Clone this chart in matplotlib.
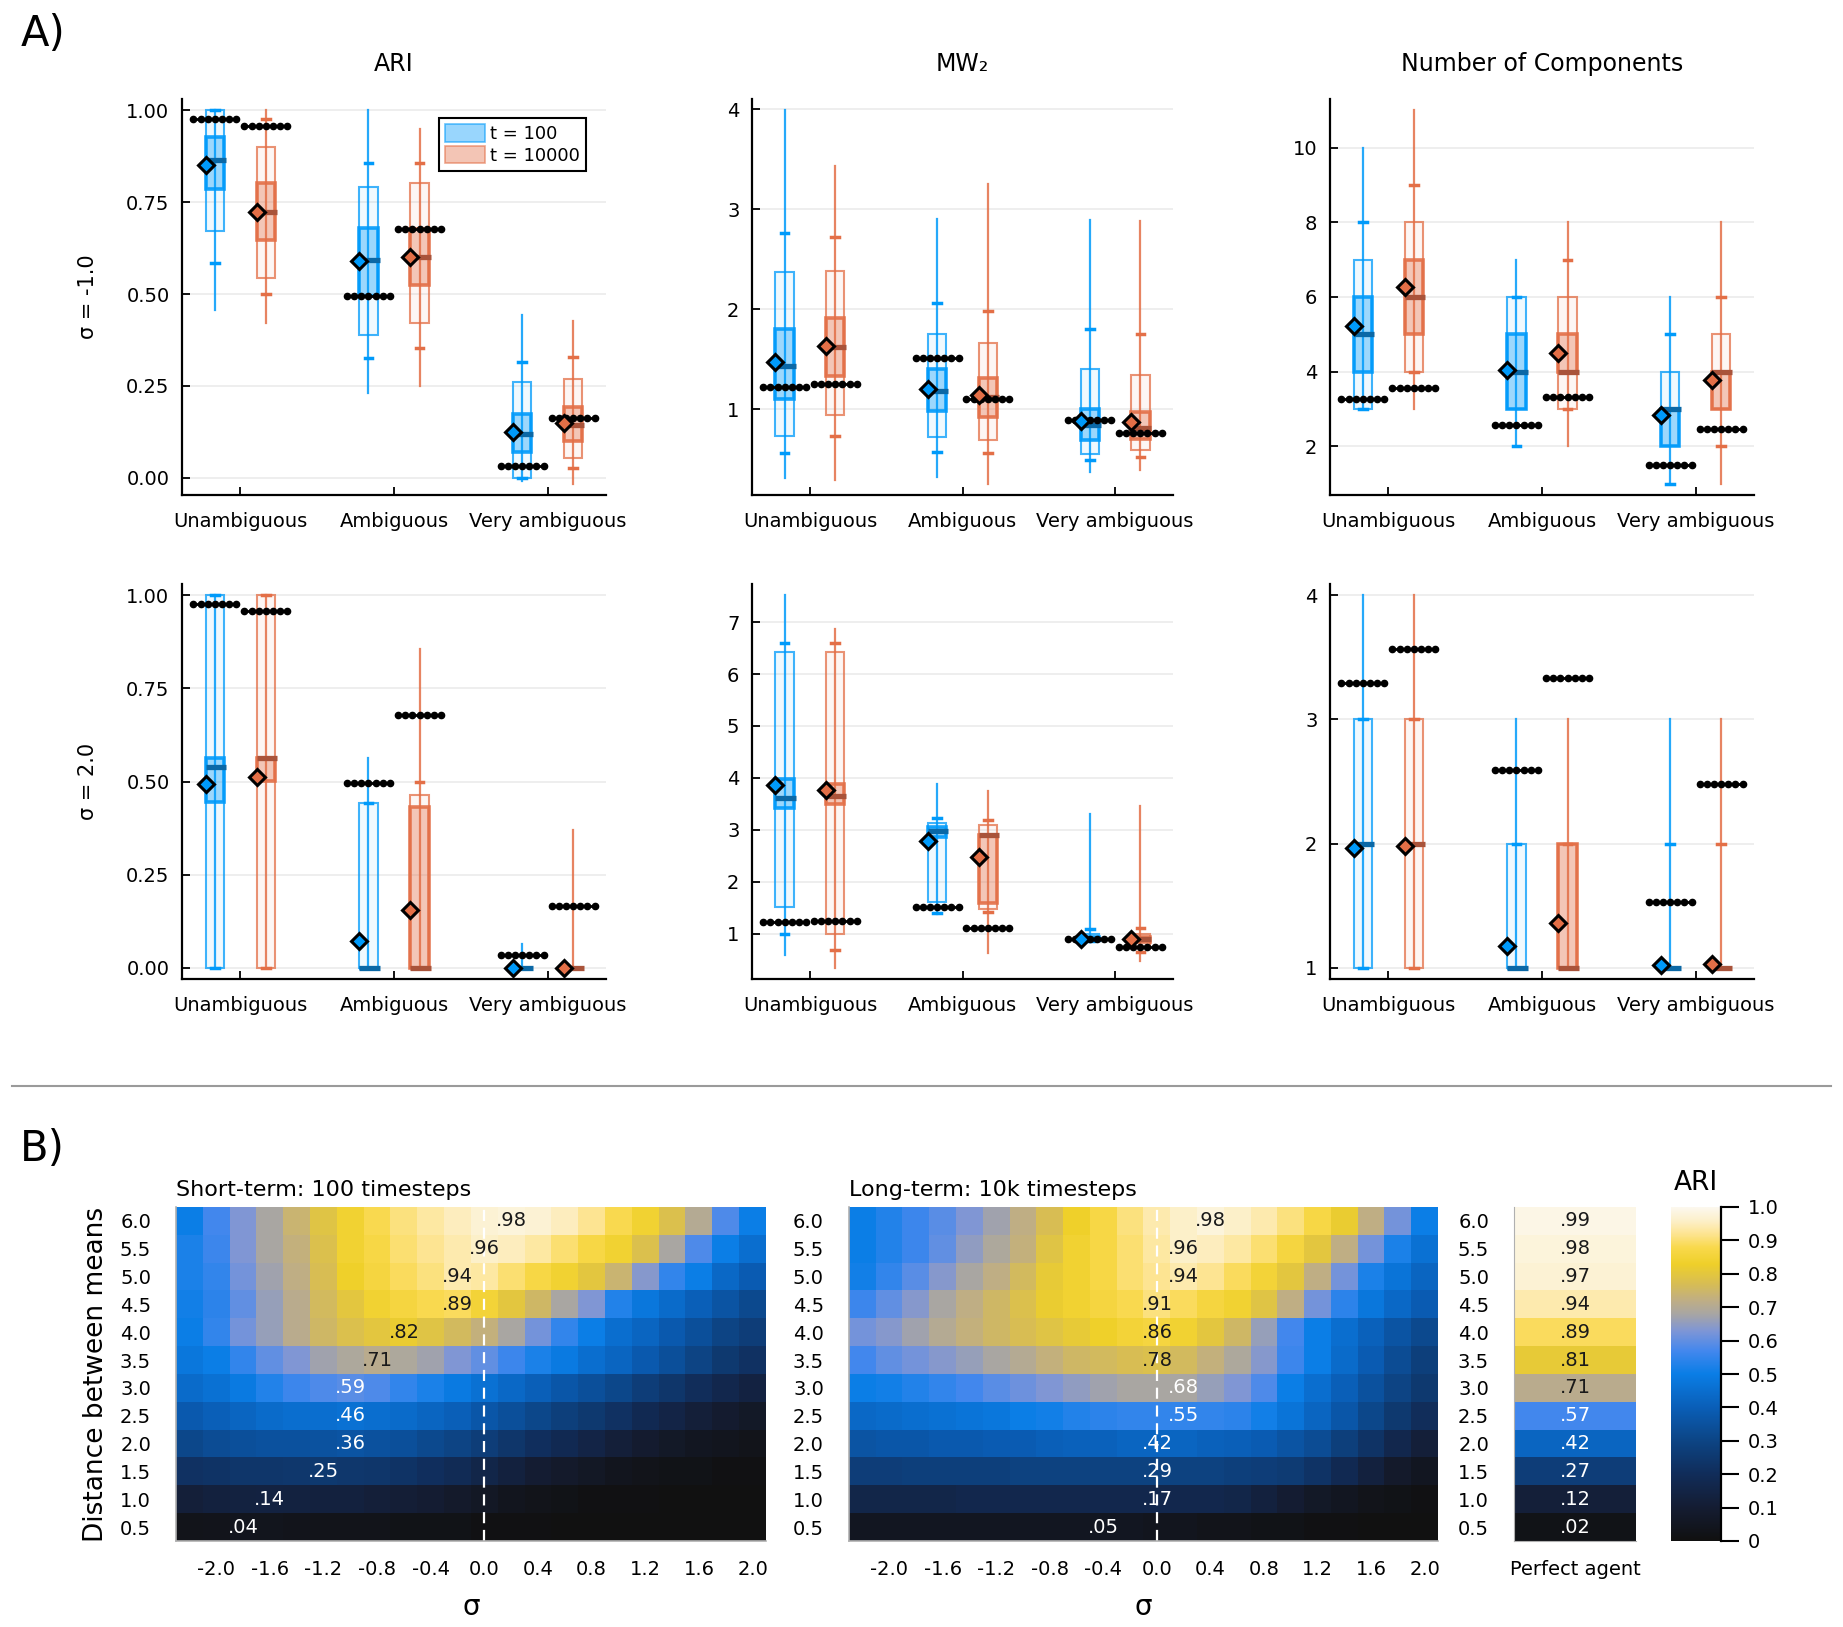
import numpy as np
import matplotlib
matplotlib.use("Agg")
import matplotlib.pyplot as plt
from matplotlib.colors import LinearSegmentedColormap, to_rgba
from matplotlib.patches import Rectangle, Patch
from matplotlib.lines import Line2D

plt.rcParams['font.family'] = ['DejaVu Sans']

# ---------------- data: box plots ----------------
groups = ['Unambiguous', 'Ambiguous', 'Very ambiguous']
# each tuple: (min, low cap, outer low, q25, median, q75, outer high, high cap, max)
ari_neg_t100 = [(0.458, 0.585, 0.671, 0.785, 0.865, 0.926, 1.0, 1.0, 1.0),
                (0.23, 0.327, 0.388, 0.494, 0.592, 0.679, 0.79, 0.857, 1.0),
                (-0.008, 0.0, 0.0, 0.07, 0.12, 0.174, 0.261, 0.314, 0.443)]
ari_neg_t10k = [(0.42, 0.499, 0.545, 0.646, 0.723, 0.801, 0.9, 0.976, 1.0),
                (0.249, 0.353, 0.42, 0.524, 0.6, 0.678, 0.801, 0.857, 0.949),
                (-0.016, 0.026, 0.053, 0.101, 0.145, 0.192, 0.27, 0.328, 0.427)]
ari_neg_mean = ([0.85, 0.59, 0.125], [0.723, 0.602, 0.149])
ari_neg_ref = ([0.977, 0.494, 0.033], [0.957, 0.678, 0.164])

mw_neg_t100 = [(0.313, 0.567, 0.737, 1.103, 1.437, 1.8, 2.37, 2.76, 3.99),
               (0.323, 0.573, 0.727, 0.98, 1.183, 1.4, 1.75, 2.067, 2.907),
               (0.373, 0.497, 0.55, 0.693, 0.84, 1.007, 1.407, 1.807, 2.893)]
mw_neg_t10k = [(0.29, 0.733, 0.943, 1.337, 1.62, 1.917, 2.38, 2.723, 3.433),
               (0.257, 0.563, 0.697, 0.923, 1.123, 1.31, 1.66, 1.98, 3.257),
               (0.39, 0.523, 0.59, 0.707, 0.813, 0.973, 1.347, 1.757, 2.883)]
mw_neg_mean = ([1.477, 1.2, 0.88], [1.633, 1.14, 0.873])
mw_neg_ref = ([1.227, 1.517, 0.897], [1.257, 1.1, 0.76])

nc_neg_t100 = [(3, 3, 3, 4, 5, 6, 7, 8, 10),
               (2, 2, 3, 3, 4, 5, 6, 6, 7),
               (1, 1, 2, 2, 3, 3, 4, 5, 6)]
nc_neg_t10k = [(3, 4, 4, 5, 6, 7, 8, 9, 11),
               (2, 3, 3, 4, 4, 5, 6, 7, 8),
               (1, 2, 3, 3, 4, 4, 5, 6, 8)]
nc_neg_mean = ([5.22, 4.05, 2.83], [6.28, 4.5, 3.77])
nc_neg_ref = ([3.28, 2.58, 1.51], [3.56, 3.32, 2.47])

ari_pos_t100 = [(0, 0, 0, 0.446, 0.539, 0.562, 1.0, 1.0, 1.0),
                (0, 0, 0, 0, 0, 0, 0.443, 0.443, 0.562),
                (0, 0, 0, 0, 0, 0, 0, 0, 0.063)]
ari_pos_t10k = [(0, 0, 0, 0.501, 0.562, 0.562, 1.0, 1.0, 1.0),
                (0, 0, 0, 0, 0, 0.431, 0.465, 0.498, 0.856),
                (0, 0, 0, 0, 0, 0, 0, 0, 0.37)]
ari_pos_mean = ([0.494, 0.072, 0.0], [0.512, 0.155, 0.0])
ari_pos_ref = ([0.977, 0.495, 0.034], [0.957, 0.679, 0.165])

mw_pos_t100 = [(0.59, 1.0, 1.51, 3.41, 3.62, 3.97, 6.43, 6.59, 7.52),
               (1.38, 1.4, 1.61, 2.87, 2.98, 3.05, 3.14, 3.23, 3.89),
               (0.84, 0.85, 0.85, 0.87, 0.9, 0.93, 0.99, 1.08, 3.3)]
mw_pos_t10k = [(0.34, 0.69, 0.99, 3.5, 3.65, 3.88, 6.43, 6.59, 6.87),
               (0.63, 1.42, 1.48, 1.58, 2.9, 2.9, 3.09, 3.18, 3.74),
               (0.48, 0.64, 0.74, 0.84, 0.9, 0.93, 0.99, 1.11, 3.45)]
mw_pos_mean = ([3.86, 2.78, 0.9], [3.77, 2.48, 0.9])
mw_pos_ref = ([1.22, 1.51, 0.9], [1.25, 1.1, 0.75])

nc_pos_t100 = [(1, 1, 1, 2, 2, 2, 3, 3, 4),
               (1, 1, 1, 1, 1, 1, 2, 2, 3),
               (1, 1, 1, 1, 1, 1, 1, 2, 3)]
nc_pos_t10k = [(1, 1, 1, 2, 2, 2, 3, 3, 4),
               (1, 1, 1, 1, 1, 2, 2, 2, 3),
               (1, 1, 1, 1, 1, 1, 1, 2, 3)]
nc_pos_mean = ([1.968, 1.177, 1.02], [1.984, 1.36, 1.03])
nc_pos_ref = ([3.29, 2.59, 1.53], [3.567, 3.33, 2.476])

# ---------------- data: heatmaps ----------------
sigma = [-2.2, -2.0, -1.8, -1.6, -1.4, -1.2, -1.0, -0.8, -0.6, -0.4, -0.2,
         0.0, 0.2, 0.4, 0.6, 0.8, 1.0, 1.2, 1.4, 1.6, 1.8, 2.0]
dist = [6.0, 5.5, 5.0, 4.5, 4.0, 3.5, 3.0, 2.5, 2.0, 1.5, 1.0, 0.5]
sigma_ticks = [-2.0, -1.6, -1.2, -0.8, -0.4, 0.0, 0.4, 0.8, 1.2, 1.6, 2.0]

short_term = [
    [0.50, 0.57, 0.63, 0.68, 0.74, 0.79, 0.84, 0.88, 0.91, 0.93, 0.95, 0.97, 0.98, 0.97, 0.95, 0.92, 0.88, 0.84, 0.78, 0.70, 0.58, 0.50],
    [0.52, 0.56, 0.63, 0.68, 0.73, 0.78, 0.84, 0.87, 0.90, 0.92, 0.94, 0.96, 0.95, 0.93, 0.90, 0.87, 0.84, 0.78, 0.68, 0.58, 0.50, 0.45],
    [0.52, 0.55, 0.62, 0.67, 0.72, 0.77, 0.83, 0.86, 0.89, 0.91, 0.94, 0.93, 0.90, 0.87, 0.84, 0.80, 0.74, 0.64, 0.55, 0.50, 0.43, 0.39],
    [0.51, 0.54, 0.60, 0.66, 0.71, 0.76, 0.80, 0.84, 0.86, 0.88, 0.89, 0.85, 0.80, 0.75, 0.68, 0.63, 0.53, 0.48, 0.44, 0.40, 0.36, 0.32],
    [0.50, 0.55, 0.62, 0.66, 0.71, 0.75, 0.78, 0.80, 0.82, 0.79, 0.76, 0.73, 0.68, 0.62, 0.55, 0.50, 0.45, 0.42, 0.38, 0.34, 0.30, 0.27],
    [0.48, 0.50, 0.55, 0.60, 0.63, 0.67, 0.69, 0.71, 0.69, 0.67, 0.63, 0.60, 0.56, 0.52, 0.49, 0.45, 0.42, 0.38, 0.34, 0.30, 0.25, 0.22],
    [0.44, 0.46, 0.49, 0.53, 0.56, 0.58, 0.59, 0.58, 0.55, 0.52, 0.49, 0.46, 0.43, 0.40, 0.37, 0.34, 0.31, 0.27, 0.24, 0.20, 0.17, 0.14],
    [0.38, 0.40, 0.42, 0.44, 0.45, 0.45, 0.46, 0.45, 0.44, 0.42, 0.40, 0.37, 0.34, 0.31, 0.28, 0.25, 0.22, 0.18, 0.15, 0.12, 0.09, 0.07],
    [0.31, 0.33, 0.34, 0.35, 0.35, 0.355, 0.36, 0.35, 0.34, 0.32, 0.30, 0.27, 0.24, 0.21, 0.18, 0.15, 0.12, 0.09, 0.07, 0.05, 0.04, 0.03],
    [0.22, 0.23, 0.24, 0.24, 0.245, 0.25, 0.245, 0.24, 0.23, 0.21, 0.19, 0.16, 0.13, 0.10, 0.08, 0.06, 0.04, 0.03, 0.02, 0.02, 0.01, 0.01],
    [0.12, 0.13, 0.135, 0.14, 0.135, 0.13, 0.13, 0.12, 0.11, 0.10, 0.08, 0.06, 0.04, 0.03, 0.02, 0.01, 0.01, 0.01, 0.00, 0.00, 0.00, 0.00],
    [0.03, 0.035, 0.04, 0.038, 0.035, 0.03, 0.03, 0.03, 0.02, 0.02, 0.02, 0.01, 0.01, 0.01, 0.00, 0.00, 0.00, 0.00, 0.00, 0.00, 0.00, 0.00],
]
short_peak = [0.2, 0.0, -0.2, -0.2, -0.6, -0.8, -1.0, -1.0, -1.0, -1.2, -1.6, -1.8]

long_term = [
    [0.50, 0.53, 0.56, 0.59, 0.63, 0.67, 0.72, 0.77, 0.83, 0.87, 0.91, 0.94, 0.96, 0.98, 0.96, 0.94, 0.91, 0.87, 0.82, 0.72, 0.62, 0.50],
    [0.50, 0.53, 0.56, 0.60, 0.65, 0.69, 0.73, 0.79, 0.84, 0.87, 0.90, 0.93, 0.96, 0.95, 0.93, 0.90, 0.86, 0.80, 0.72, 0.62, 0.52, 0.46],
    [0.51, 0.55, 0.59, 0.64, 0.68, 0.72, 0.76, 0.81, 0.84, 0.87, 0.90, 0.92, 0.94, 0.92, 0.89, 0.85, 0.80, 0.72, 0.62, 0.52, 0.47, 0.42],
    [0.56, 0.60, 0.64, 0.68, 0.72, 0.75, 0.78, 0.82, 0.84, 0.86, 0.88, 0.91, 0.89, 0.86, 0.84, 0.79, 0.72, 0.62, 0.54, 0.48, 0.43, 0.39],
    [0.62, 0.64, 0.67, 0.70, 0.73, 0.75, 0.77, 0.79, 0.81, 0.83, 0.85, 0.86, 0.84, 0.80, 0.75, 0.66, 0.57, 0.50, 0.45, 0.41, 0.36, 0.32],
    [0.57, 0.60, 0.62, 0.64, 0.66, 0.68, 0.70, 0.73, 0.75, 0.76, 0.77, 0.78, 0.76, 0.73, 0.69, 0.64, 0.56, 0.50, 0.44, 0.39, 0.33, 0.28],
    [0.50, 0.51, 0.53, 0.55, 0.57, 0.59, 0.61, 0.63, 0.65, 0.67, 0.68, 0.68, 0.68, 0.66, 0.63, 0.58, 0.50, 0.45, 0.40, 0.35, 0.30, 0.25],
    [0.43, 0.44, 0.45, 0.46, 0.47, 0.48, 0.50, 0.51, 0.53, 0.54, 0.55, 0.55, 0.55, 0.55, 0.54, 0.51, 0.47, 0.42, 0.37, 0.31, 0.25, 0.20],
    [0.36, 0.37, 0.37, 0.38, 0.38, 0.39, 0.39, 0.40, 0.41, 0.41, 0.42, 0.42, 0.42, 0.41, 0.40, 0.39, 0.36, 0.33, 0.28, 0.23, 0.17, 0.12],
    [0.27, 0.27, 0.28, 0.28, 0.28, 0.28, 0.29, 0.29, 0.29, 0.29, 0.29, 0.29, 0.29, 0.29, 0.28, 0.27, 0.26, 0.23, 0.18, 0.13, 0.08, 0.05],
    [0.16, 0.16, 0.16, 0.16, 0.17, 0.17, 0.17, 0.17, 0.17, 0.17, 0.17, 0.17, 0.17, 0.17, 0.16, 0.13, 0.10, 0.07, 0.05, 0.03, 0.02, 0.01],
    [0.05, 0.05, 0.05, 0.05, 0.05, 0.05, 0.05, 0.05, 0.05, 0.05, 0.05, 0.04, 0.04, 0.03, 0.03, 0.02, 0.02, 0.01, 0.01, 0.00, 0.00, 0.00],
]
long_peak = [0.4, 0.2, 0.2, 0.0, 0.0, 0.0, 0.2, 0.2, 0.0, 0.0, 0.0, -0.4]

perfect_agent = [0.99, 0.98, 0.97, 0.94, 0.89, 0.81, 0.71, 0.57, 0.42, 0.27, 0.12, 0.02]
cbar_ticks = [0.0, 0.1, 0.2, 0.3, 0.4, 0.5, 0.6, 0.7, 0.8, 0.9, 1.0]

# ---------------- style ----------------
BLUE = '#009AFA'
ORANGE = '#E36F47'
MED = {BLUE: '#0b68a6', ORANGE: '#a9533a'}

cmap = LinearSegmentedColormap.from_list('ari', [
    (0.0, '#111111'), (0.1, '#151d33'), (0.2, '#112d5a'), (0.3, '#0d4585'),
    (0.4, '#0a5fb8'), (0.5, '#0a7ee6'), (0.57, '#4488ee'), (0.63, '#7f96d6'),
    (0.68, '#a8a6a4'), (0.72, '#bfae86'), (0.77, '#d7bd55'), (0.83, '#efd02a'),
    (0.88, '#f9d94c'), (0.92, '#fde490'), (0.96, '#fdf0c9'), (1.0, '#fcf8ee')])

W, H = 1843, 1627
fig = plt.figure(figsize=(W / 100, H / 100), dpi=100)


def frac(x0, y0, x1, y1):
    return [x0 / W, 1 - y1 / H, (x1 - x0) / W, (y1 - y0) / H]


def draw_series(ax, stats, means, refs, color, off):
    w = 0.12
    for i, s in enumerate(stats):
        mn, clo, olo, ilo, med, ihi, ohi, chi, mx = s
        x = 0.5 + i + off
        ax.plot([x, x], [mn, mx], color=color, lw=1.6, alpha=0.85, zorder=2)
        ax.add_patch(Rectangle((x - w / 2, olo), w, ohi - olo, fc=to_rgba(color, 0.06),
                               ec=to_rgba(color, 0.75), lw=1.5, zorder=3))
        ax.add_patch(Rectangle((x - w / 2, ilo), w, ihi - ilo, fc=to_rgba(color, 0.35),
                               ec=to_rgba(color, 0.9), lw=2.6, zorder=4))
        for c in (clo, chi):
            ax.plot([x - 0.025, x + 0.025], [c, c], color=color, lw=2.5, zorder=4)
        ax.plot([x - w / 2, x + w / 2 + 0.012], [med, med], color=MED[color], lw=3.8,
                solid_capstyle='butt', zorder=5)
        ax.plot(np.linspace(x - 0.14, x + 0.14, 7), [refs[i]] * 7, color='black', lw=2,
                marker='o', ms=4.5, zorder=6)
        ax.plot(x - w / 2, means[i], marker='D', ms=8, mfc=color, mec='black', mew=2.2, zorder=7)


def box_panel(rect, s100, s10k, means, refs, yticks, yfmt, title=None, ylabel=None):
    ax = fig.add_axes(frac(*rect))
    draw_series(ax, s100, means[0], refs[0], BLUE, -0.166)
    draw_series(ax, s10k, means[1], refs[1], ORANGE, 0.166)
    vals = [v for s in s100 + s10k for v in s] + means[0] + means[1] + refs[0] + refs[1]
    lo, hi = min(vals), max(vals)
    pad = 0.03 * (hi - lo)
    ax.set_ylim(lo - pad, hi + pad)
    ax.set_xlim(0.12, 2.88)
    ax.set_xticks([0.5, 1.5, 2.5])
    ax.set_xticklabels(groups)
    ax.set_yticks(yticks)
    ax.set_yticklabels([yfmt.format(t) for t in yticks])
    for sp in ['top', 'right']:
        ax.spines[sp].set_visible(False)
    for sp in ['left', 'bottom']:
        ax.spines[sp].set_linewidth(1.6)
    ax.tick_params(direction='in', length=6, width=1.3, labelsize=14)
    ax.tick_params(axis='x', pad=12)
    ax.tick_params(axis='y', pad=9)
    ax.yaxis.grid(True, color='#ebebeb', lw=1.2)
    ax.set_axisbelow(True)
    if title:
        ax.set_title(title, fontsize=17, pad=20)
    if ylabel:
        ax.set_ylabel(ylabel, fontsize=15, labelpad=20)
    return ax


ax1 = box_panel((182, 99, 606, 495), ari_neg_t100, ari_neg_t10k, ari_neg_mean, ari_neg_ref,
                [0, 0.25, 0.5, 0.75, 1.0], '{:.2f}', 'ARI', 'σ = -1.0')
box_panel((752, 99, 1173, 495), mw_neg_t100, mw_neg_t10k, mw_neg_mean, mw_neg_ref,
          [1, 2, 3, 4], '{:d}', 'MW₂')
box_panel((1330, 99, 1754, 495), nc_neg_t100, nc_neg_t10k, nc_neg_mean, nc_neg_ref,
          [2, 4, 6, 8, 10], '{:d}', 'Number of Components')
box_panel((182, 584, 606, 979), ari_pos_t100, ari_pos_t10k, ari_pos_mean, ari_pos_ref,
          [0, 0.25, 0.5, 0.75, 1.0], '{:.2f}', None, 'σ = 2.0')
box_panel((752, 584, 1173, 979), mw_pos_t100, mw_pos_t10k, mw_pos_mean, mw_pos_ref,
          [1, 2, 3, 4, 5, 6, 7], '{:d}')
box_panel((1330, 584, 1754, 979), nc_pos_t100, nc_pos_t10k, nc_pos_mean, nc_pos_ref,
          [1, 2, 3, 4], '{:d}')

handles = [Patch(fc=to_rgba(BLUE, 0.4), ec=to_rgba(BLUE, 0.6), lw=1.2, label='t = 100'),
           Patch(fc=to_rgba(ORANGE, 0.4), ec=to_rgba(ORANGE, 0.6), lw=1.2, label='t = 10000')]
leg = ax1.legend(handles=handles, loc='upper right', bbox_to_anchor=(0.975, 0.975), fontsize=13,
                 fancybox=False, framealpha=1, edgecolor='black', handlelength=2.2,
                 handleheight=1.1, borderpad=0.35, labelspacing=0.15, handletextpad=0.3)
leg.get_frame().set_linewidth(1.5)

fig.text(0.011, 0.992, 'A)', fontsize=30, va='top', ha='left')
fig.text(0.011, 0.307, 'B)', fontsize=30, va='top', ha='left')
fig.add_artist(Line2D([0.0065, 0.9935], [1 - 1086 / H, 1 - 1086 / H], color='#9a9a9a', lw=1.5))

# ---------------- heatmaps ----------------
extent = [sigma[0] - 0.1, sigma[-1] + 0.1, dist[-1] - 0.25, dist[0] + 0.25]


def heat_panel(rect, data, peaks, title, ylabel=None):
    ax = fig.add_axes(frac(*rect))
    Z = np.array(data)
    ax.imshow(Z, cmap=cmap, vmin=0, vmax=1, aspect='auto', origin='upper',
              extent=extent, interpolation='nearest')
    ax.axvline(0.0, color='white', lw=1.6, ls=(0, (5, 3)))
    for r, (d, p) in enumerate(zip(dist, peaks)):
        v = Z[r, sigma.index(p)]
        ax.text(p, d, f'{v:.2f}'[1:], ha='center', va='center', fontsize=14,
                color='#1a1a1a' if v >= 0.7 else 'white')
    ax.set_xticks(sigma_ticks)
    ax.set_xticklabels([f'{t:.1f}' for t in sigma_ticks])
    ax.set_yticks(dist)
    ax.set_yticklabels([f'{d:.1f}' for d in dist])
    ax.tick_params(length=0, labelsize=14)
    ax.tick_params(axis='x', pad=14)
    ax.tick_params(axis='y', pad=18)
    for sp in ['top', 'right']:
        ax.spines[sp].set_visible(False)
    for sp in ['left', 'bottom']:
        ax.spines[sp].set_color('#b0b0b0')
        ax.spines[sp].set_linewidth(1.2)
    ax.set_xlabel('σ', fontsize=20, labelpad=10)
    ax.set_title(title, loc='left', fontsize=16, pad=8)
    if ylabel:
        ax.set_ylabel(ylabel, fontsize=19, labelpad=8)
    return ax


heat_panel((176, 1207, 766, 1541), short_term, short_peak, 'Short-term: 100 timesteps',
           'Distance between means')
heat_panel((849, 1207, 1438, 1541), long_term, long_peak, 'Long-term: 10k timesteps')

# perfect agent column
axp = fig.add_axes(frac(1514, 1207, 1636, 1541))
P = np.array(perfect_agent)[:, None]
axp.imshow(P, cmap=cmap, vmin=0, vmax=1, aspect='auto', origin='upper',
           extent=[-0.5, 0.5, dist[-1] - 0.25, dist[0] + 0.25], interpolation='nearest')
for d, v in zip(dist, perfect_agent):
    axp.text(0, d, f'{v:.2f}'[1:], ha='center', va='center', fontsize=14,
             color='#1a1a1a' if v >= 0.7 else 'white')
axp.set_xticks([0])
axp.set_xticklabels(['Perfect agent'])
axp.set_yticks(dist)
axp.set_yticklabels([f'{d:.1f}' for d in dist])
axp.tick_params(length=0, labelsize=14)
axp.tick_params(axis='x', pad=14)
axp.tick_params(axis='y', pad=18)
for sp in ['top', 'right']:
    axp.spines[sp].set_visible(False)
for sp in ['left', 'bottom']:
    axp.spines[sp].set_color('#b0b0b0')

# colorbar
cax = fig.add_axes(frac(1671, 1207, 1721, 1541))
cax.imshow(np.linspace(0, 1, 256)[:, None], cmap=cmap, aspect='auto', origin='lower',
           extent=[0, 1, 0, 1])
cax.set_xticks([])
cax.yaxis.tick_right()
cax.set_yticks(cbar_ticks)
cax.set_yticklabels(['0'] + [f'{t:.1f}' for t in cbar_ticks[1:]])
cax.tick_params(axis='y', length=13, width=1.5, labelsize=14, pad=6)
for sp in ['top', 'left', 'bottom']:
    cax.spines[sp].set_visible(False)
cax.spines['right'].set_linewidth(1.6)
cax.set_title('ARI', fontsize=19, pad=12)

fig.savefig('out.png', dpi=100)
